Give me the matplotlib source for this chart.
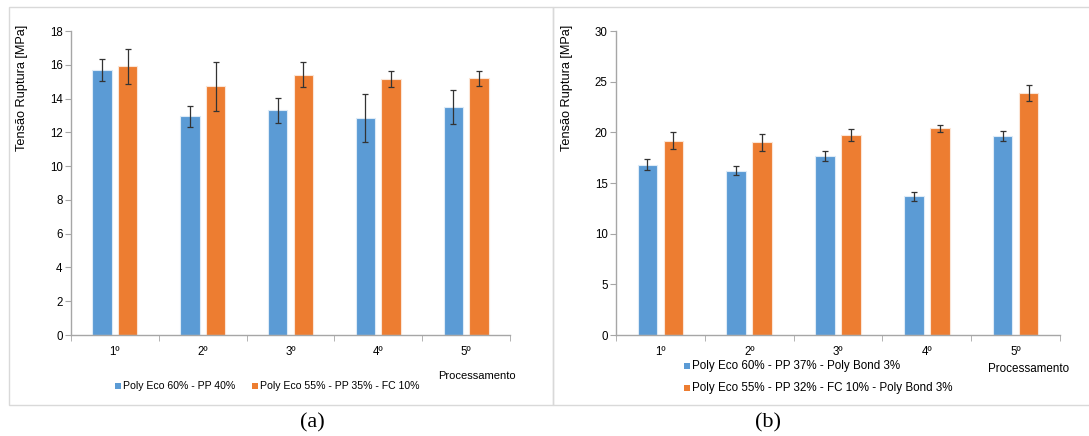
import numpy as np
import matplotlib.pyplot as plt
from matplotlib.patches import Rectangle

plt.rcParams['font.family'] = ['Liberation Sans', 'DejaVu Sans']

categorias = ['1º', '2º', '3º', '4º', '5º']

# (a)
a_s1 = [15.70, 12.95, 13.30, 12.85, 13.50]
a_s1_err = [0.65, 0.63, 0.74, 1.40, 1.00]
a_s2 = [15.90, 14.73, 15.42, 15.18, 15.20]
a_s2_err = [1.03, 1.45, 0.76, 0.48, 0.43]
a_labels = ['Poly Eco 60% - PP 40%', 'Poly Eco 55% - PP 35% - FC 10%']

# (b)
b_s1 = [16.82, 16.23, 17.65, 13.67, 19.63]
b_s1_err = [0.57, 0.40, 0.52, 0.45, 0.48]
b_s2 = [19.19, 19.00, 19.77, 20.38, 23.88]
b_s2_err = [0.80, 0.80, 0.60, 0.33, 0.80]
b_labels = ['Poly Eco 60% - PP 37% - Poly Bond 3%',
            'Poly Eco 55% - PP 32% - FC 10% - Poly Bond 3%']

azul = '#5B9BD5'
laranja = '#ED7D31'
cinza = '#A6A6A6'
W, H = 1089, 436

fig = plt.figure(figsize=(W / 100, H / 100), dpi=100)


def box(x0, y0, x1, y1):
    # pixel coords (top-left origin) -> figure fraction
    return [x0 / W, 1 - y1 / H, (x1 - x0) / W, (y1 - y0) / H]


# molduras dos painéis
for x0, x1 in [(9, 553), (553, 1095)]:
    fig.patches.append(Rectangle((x0 / W, 1 - 405 / H), (x1 - x0) / W, (405 - 7) / H,
                                 transform=fig.transFigure, fill=False,
                                 edgecolor='#D9D9D9', linewidth=1.0))


def painel(ax, s1, e1, s2, e2, ymax, ystep, fs):
    x = np.arange(len(categorias))
    w = 0.22
    err_kw = dict(ecolor='#333333', elinewidth=0.9, capsize=2.3, capthick=0.9)
    ax.bar(x - 0.146, s1, w, yerr=e1, color=azul, edgecolor='#DDEBF7',
           linewidth=0.8, error_kw=err_kw)
    ax.bar(x + 0.146, s2, w, yerr=e2, color=laranja, edgecolor='#FBE5D6',
           linewidth=0.8, error_kw=err_kw)
    ax.set_xlim(-0.5, len(categorias) - 0.5)
    ax.set_ylim(0, ymax)
    ax.set_yticks(np.arange(0, ymax + 0.1, ystep))
    ax.set_xticks(x)
    ax.set_xticklabels(categorias)
    ax.set_xticks(np.arange(-0.5, len(categorias)), minor=True)
    ax.tick_params(axis='x', which='major', length=0, pad=8, labelsize=fs)
    ax.tick_params(axis='x', which='minor', length=4, color=cinza, direction='out')
    ax.tick_params(axis='y', length=4, color=cinza, labelsize=fs, pad=2)
    for s in ['top', 'right']:
        ax.spines[s].set_visible(False)
    for s in ['left', 'bottom']:
        ax.spines[s].set_color(cinza)
        ax.spines[s].set_linewidth(1.0)


ax1 = fig.add_axes(box(71, 31, 510, 335))
painel(ax1, a_s1, a_s1_err, a_s2, a_s2_err, 18, 2, 8.3)
ax2 = fig.add_axes(box(616, 31, 1060, 335))
painel(ax2, b_s1, b_s1_err, b_s2, b_s2_err, 30, 5, 8.3)

# títulos dos eixos
for xp in [22, 567]:
    fig.text(xp / W, 1 - 88 / H, 'Tensão Ruptura [MPa]', rotation=90,
             ha='center', va='center', fontsize=9.2)
fig.text(477 / W, 1 - 376 / H, 'Processamento', ha='center', va='center', fontsize=8)
fig.text(1029 / W, 1 - 369 / H, 'Processamento', ha='center', va='center', fontsize=8.4)


# legendas
def item(xp, yp, cor, texto, fs):
    fig.patches.append(Rectangle(((xp - 3) / W, 1 - (yp + 3) / H), 6 / W, 6 / H,
                                 transform=fig.transFigure, color=cor, linewidth=0))
    fig.text((xp + 5) / W, 1 - yp / H, texto, ha='left', va='center', fontsize=fs)


item(118, 386, azul, a_labels[0], 7.6)
item(255, 386, laranja, a_labels[1], 7.6)
item(687, 366, azul, b_labels[0], 8.4)
item(687, 388, laranja, b_labels[1], 8.4)

# legendas (a) e (b)
for xp, t in [(312, '(a)'), (768, '(b)')]:
    fig.text(xp / W, 1 - 423 / H, t, ha='center', va='center', fontsize=16,
             family=['Liberation Serif', 'DejaVu Serif'])

fig.savefig('out.png', dpi=100)
